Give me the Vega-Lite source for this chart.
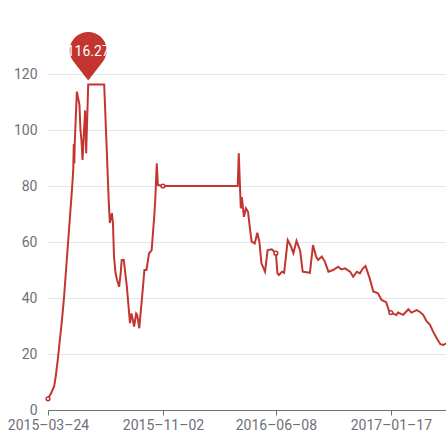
{
  "$schema": "https://vega.github.io/schema/vega-lite/v6.json",
  "width": 398,
  "height": 336,
  "autosize": {"type": "none"},
  "padding": {"left": 48, "top": 74, "right": 0, "bottom": 35},
  "background": "white",
  "config": {"view": {"stroke": null}, "font": "Roboto"},
  "data": {"values": [
    {"date": "2015/03/24", "value": 4},
    {"date": "2015/03/30", "value": 6},
    {"date": "2015/04/05", "value": 8.5},
    {"date": "2015/04/08", "value": 12},
    {"date": "2015/04/12", "value": 18},
    {"date": "2015/04/16", "value": 25},
    {"date": "2015/04/20", "value": 32},
    {"date": "2015/04/24", "value": 40},
    {"date": "2015/04/28", "value": 50},
    {"date": "2015/05/02", "value": 60},
    {"date": "2015/05/06", "value": 70},
    {"date": "2015/05/10", "value": 80},
    {"date": "2015/05/12", "value": 86},
    {"date": "2015/05/13", "value": 95},
    {"date": "2015/05/14", "value": 88},
    {"date": "2015/05/15", "value": 96},
    {"date": "2015/05/19", "value": 113.7},
    {"date": "2015/05/24", "value": 109},
    {"date": "2015/05/26", "value": 100},
    {"date": "2015/05/28", "value": 96},
    {"date": "2015/05/30", "value": 89.3},
    {"date": "2015/06/01", "value": 97},
    {"date": "2015/06/04", "value": 107},
    {"date": "2015/06/06", "value": 91.7},
    {"date": "2015/06/10", "value": 116.27},
    {"date": "2015/07/11", "value": 116.27},
    {"date": "2015/07/20", "value": 73.8},
    {"date": "2015/07/22", "value": 66.8},
    {"date": "2015/07/26", "value": 70.3},
    {"date": "2015/07/28", "value": 66.8},
    {"date": "2015/07/30", "value": 54.8},
    {"date": "2015/08/02", "value": 48.9},
    {"date": "2015/08/05", "value": 46.4},
    {"date": "2015/08/09", "value": 44},
    {"date": "2015/08/12", "value": 48.9},
    {"date": "2015/08/14", "value": 53.6},
    {"date": "2015/08/18", "value": 53.6},
    {"date": "2015/08/24", "value": 44},
    {"date": "2015/08/30", "value": 31},
    {"date": "2015/09/02", "value": 34.5},
    {"date": "2015/09/07", "value": 29.8},
    {"date": "2015/09/11", "value": 34.5},
    {"date": "2015/09/13", "value": 34},
    {"date": "2015/09/17", "value": 29.2},
    {"date": "2015/09/22", "value": 39.3},
    {"date": "2015/09/27", "value": 50},
    {"date": "2015/10/01", "value": 50},
    {"date": "2015/10/06", "value": 56},
    {"date": "2015/10/11", "value": 57},
    {"date": "2015/10/16", "value": 69},
    {"date": "2015/10/18", "value": 75},
    {"date": "2015/10/21", "value": 88.1},
    {"date": "2015/10/23", "value": 80.4},
    {"date": "2015/11/02", "value": 80},
    {"date": "2016/03/26", "value": 80},
    {"date": "2016/03/28", "value": 91.7},
    {"date": "2016/04/01", "value": 72},
    {"date": "2016/04/03", "value": 76},
    {"date": "2016/04/07", "value": 69},
    {"date": "2016/04/11", "value": 72},
    {"date": "2016/04/15", "value": 70.8},
    {"date": "2016/04/19", "value": 64.3},
    {"date": "2016/04/22", "value": 60.1},
    {"date": "2016/04/28", "value": 59.5},
    {"date": "2016/05/03", "value": 63.3},
    {"date": "2016/05/07", "value": 60.1},
    {"date": "2016/05/11", "value": 52.4},
    {"date": "2016/05/18", "value": 49.4},
    {"date": "2016/05/23", "value": 57.1},
    {"date": "2016/05/31", "value": 57.4},
    {"date": "2016/06/08", "value": 56},
    {"date": "2016/06/11", "value": 48.8},
    {"date": "2016/06/14", "value": 48.2},
    {"date": "2016/06/20", "value": 49.4},
    {"date": "2016/06/24", "value": 49},
    {"date": "2016/07/01", "value": 60.7},
    {"date": "2016/07/07", "value": 58.6},
    {"date": "2016/07/12", "value": 56},
    {"date": "2016/07/18", "value": 60.4},
    {"date": "2016/07/25", "value": 57},
    {"date": "2016/07/30", "value": 49.4},
    {"date": "2016/08/13", "value": 49},
    {"date": "2016/08/19", "value": 58.9},
    {"date": "2016/08/25", "value": 54.8},
    {"date": "2016/08/29", "value": 53.6},
    {"date": "2016/09/05", "value": 54.8},
    {"date": "2016/09/11", "value": 53},
    {"date": "2016/09/18", "value": 49.4},
    {"date": "2016/09/27", "value": 50},
    {"date": "2016/10/07", "value": 51.2},
    {"date": "2016/10/13", "value": 50.2},
    {"date": "2016/10/20", "value": 50.6},
    {"date": "2016/10/30", "value": 49.4},
    {"date": "2016/11/05", "value": 47.6},
    {"date": "2016/11/12", "value": 49.4},
    {"date": "2016/11/18", "value": 48.8},
    {"date": "2016/11/24", "value": 50.6},
    {"date": "2016/11/29", "value": 51.4},
    {"date": "2016/12/07", "value": 47},
    {"date": "2016/12/14", "value": 42.3},
    {"date": "2016/12/23", "value": 41.7},
    {"date": "2016/12/30", "value": 39.3},
    {"date": "2017/01/08", "value": 38.5},
    {"date": "2017/01/15", "value": 34.5},
    {"date": "2017/01/17", "value": 34.8},
    {"date": "2017/01/28", "value": 33.9},
    {"date": "2017/01/31", "value": 34.8},
    {"date": "2017/02/10", "value": 34},
    {"date": "2017/02/20", "value": 36},
    {"date": "2017/02/26", "value": 34.8},
    {"date": "2017/03/08", "value": 35.7},
    {"date": "2017/03/14", "value": 35.1},
    {"date": "2017/03/21", "value": 33.9},
    {"date": "2017/03/27", "value": 31.8},
    {"date": "2017/04/03", "value": 30.4},
    {"date": "2017/04/09", "value": 28},
    {"date": "2017/04/16", "value": 25.6},
    {"date": "2017/04/23", "value": 23.5},
    {"date": "2017/04/29", "value": 23.2},
    {"date": "2017/05/04", "value": 23.8}
  ]},
  "encoding": {
    "x": {
      "field": "date",
      "type": "temporal",
      "scale": {"domain": [{"year": 2015, "month": 3, "date": 24}, {"year": 2017, "month": 5, "date": 4}]},
      "axis": {
        "values": [
          {"year": 2015, "month": 3, "date": 24},
          {"year": 2015, "month": 11, "date": 2},
          {"year": 2016, "month": 6, "date": 8},
          {"year": 2017, "month": 1, "date": 17}
        ],
        "format": "%Y–%m–%d",
        "title": null,
        "grid": false,
        "labelColor": "#6E7079",
        "labelFontSize": 14,
        "labelPadding": 3,
        "labelOverlap": false,
        "labelFlush": false,
        "domainColor": "#6E7079",
        "tickColor": "#6E7079",
        "tickSize": 5,
        "zindex": 1
      }
    },
    "y": {
      "field": "value",
      "type": "quantitative",
      "scale": {"domain": [0, 120], "nice": false},
      "axis": {
        "values": [0, 20, 40, 60, 80, 100, 120],
        "title": null,
        "domain": false,
        "ticks": false,
        "grid": true,
        "gridColor": "#E0E6F1",
        "labelColor": "#6E7079",
        "labelFontSize": 14,
        "labelPadding": 11
      }
    }
  },
  "layer": [
    {"mark": {"type": "line", "color": "#c23531", "strokeWidth": 2}},
    {
      "transform": [{"filter": "indexof(['2015/03/24','2015/11/02','2016/06/08','2017/01/17'], timeFormat(toDate(datum.date), '%Y/%m/%d')) >= 0"}],
      "mark": {"type": "point", "shape": "circle", "filled": false, "fill": "white", "fillOpacity": 1, "stroke": "#c23531", "strokeWidth": 1.5, "size": 14, "opacity": 1}
    },
    {
      "transform": [{"filter": "timeFormat(toDate(datum.date), '%Y/%m/%d') == '2015/06/10'"}],
      "mark": {"type": "point", "shape": "M0,-0.4 L-1.457,-2.26 A1.85,1.85 0 1 1 1.457,-2.26 Z", "filled": true, "color": "#c23531", "size": 400, "opacity": 1}
    },
    {
      "transform": [{"filter": "timeFormat(toDate(datum.date), '%Y/%m/%d') == '2015/06/10'"}],
      "mark": {"type": "text", "dy": -32, "color": "white", "fontSize": 14},
      "encoding": {"text": {"field": "value", "type": "quantitative", "format": ".2f"}}
    }
  ]
}
